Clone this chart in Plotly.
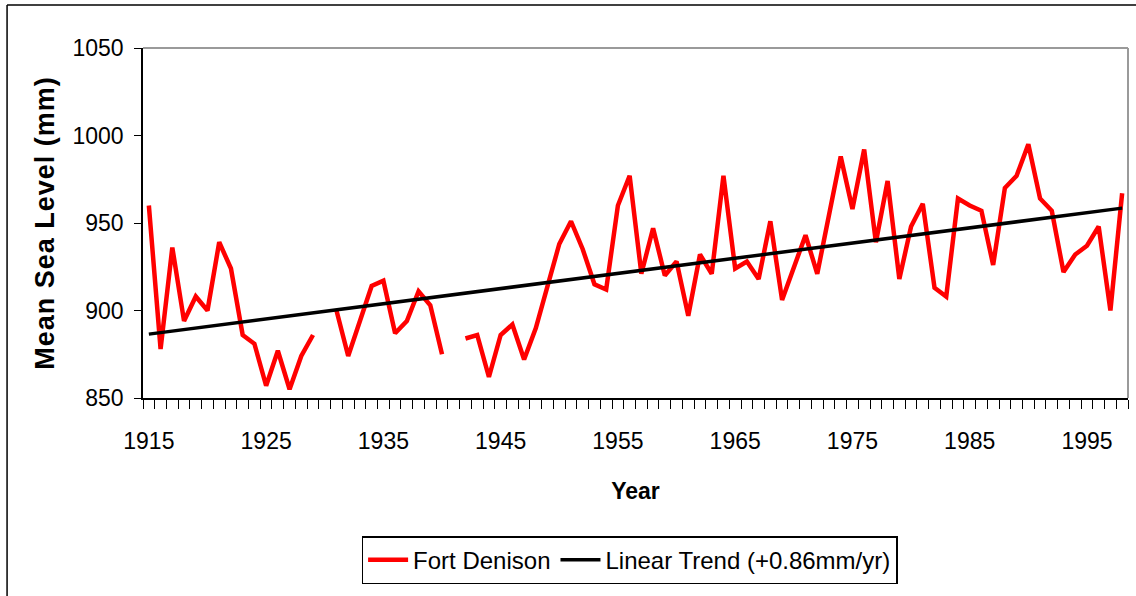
import plotly.graph_objects as go

years = list(range(1915, 1999))
sea_level = [
    960, 878, 936, 894, 908, 900, 939, 924, 886, 881,
    857, 877, 855, 874, 886, None, 900, 874, 894, 914,
    917, 887, 894, 911, 903, 875, None, 884, 886, 862,
    886, 892, 872, 890, 913, 938, 951, 935, 915, 912,
    960, 977, 921, 947, 920, 928, 897, 932, 921, 977,
    924, 928, 918, 951, 906, 925, 943, 921, 955, 988,
    958, 992, 939, 974, 918, 948, 961, 913, 908, 964,
    960, 957, 926, 970, 977, 995, 964, 957, 922, 932,
    937, 948, 900, 967,
]
trend_years = [1915, 1998]
trend_values = [886.5, 958.5]
x_tick_years = [1915, 1925, 1935, 1945, 1955, 1965, 1975, 1985, 1995]
y_ticks = [850, 900, 950, 1000, 1050]

FONT = "Liberation Sans, Arial, sans-serif"

fig = go.Figure()
fig.add_trace(go.Scatter(
    x=years, y=sea_level, mode="lines", name="Fort Denison",
    line=dict(color="#FF0000", width=4.5), connectgaps=False,
))
fig.add_trace(go.Scatter(
    x=trend_years, y=trend_values, mode="lines", name="Linear Trend (+0.86mm/yr)",
    line=dict(color="#000000", width=3.5),
))

boundaries = [y - 0.5 for y in years] + [years[-1] + 0.5]

fig.update_layout(
    width=1136, height=596,
    margin=dict(l=143, r=8, t=48, b=198, autoexpand=False),
    paper_bgcolor="white", plot_bgcolor="white",
    font=dict(family=FONT, color="black", size=23),
    showlegend=True,
    legend=dict(
        orientation="h", x=0.494, xanchor="center", y=-0.395, yanchor="top",
        bordercolor="black", borderwidth=1.5, bgcolor="white",
        font=dict(family=FONT, size=24, color="black"),
        itemwidth=40,
    ),
    xaxis=dict(
        range=[boundaries[0], boundaries[-1]],
        tickmode="array", tickvals=x_tick_years,
        ticktext=[str(v) for v in x_tick_years],
        ticks="outside", ticklen=22, tickcolor="rgba(0,0,0,0)",
        minor=dict(tickmode="array", tickvals=boundaries, ticks="outside",
                   ticklen=9, tickcolor="black", tickwidth=1),
        showline=True, linecolor="black", linewidth=1.5,
        showgrid=False, zeroline=False,
        tickfont=dict(family=FONT, size=23),
        title=dict(text="<b>Year</b>", font=dict(family=FONT, size=23), standoff=30),
    ),
    yaxis=dict(
        range=[850, 1050], tickmode="array", tickvals=y_ticks,
        ticks="outside", ticklen=7, tickcolor="black", tickwidth=1,
        ticklabelstandoff=6,
        showline=True, linecolor="black", linewidth=1.5,
        showgrid=False, zeroline=False,
        tickfont=dict(family=FONT, size=23),
        title=dict(
            text='<b><span style="letter-spacing:1px">Mean Sea Level (mm)</span></b>',
            font=dict(family=FONT, size=27), standoff=10,
        ),
    ),
    shapes=[
        dict(type="line", xref="paper", yref="paper", x0=0, x1=1, y0=1, y1=1,
             line=dict(color="#9a9a9a", width=2)),
        dict(type="line", xref="paper", yref="paper", x0=1, x1=1, y0=0, y1=1,
             line=dict(color="#9a9a9a", width=2)),
        dict(type="line", xref="paper", yref="paper", x0=-0.138, x1=1.01, y0=1.1229, y1=1.1229,
             line=dict(color="black", width=1.5)),
        dict(type="line", xref="paper", yref="paper", x0=-0.138, x1=-0.138, y0=1.1229, y1=-0.57,
             line=dict(color="black", width=1.5)),
    ],
)

fig.write_html("out.html")
